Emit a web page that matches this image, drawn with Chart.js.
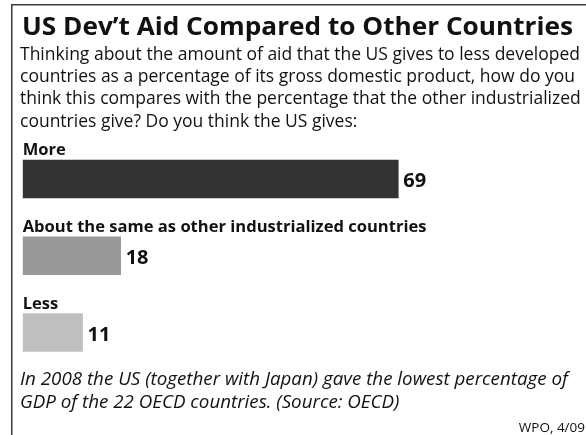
<!DOCTYPE html>
<html>
<head>
<meta charset="utf-8">
<script src="https://cdn.jsdelivr.net/npm/chart.js@4/dist/chart.umd.min.js"></script>
<style>
  html, body { margin: 0; padding: 0; background: #ffffff; }
  #wrap { position: relative; width: 586px; height: 435px; overflow: hidden; }
  canvas { display: block; }
</style>
</head>
<body>
<div id="wrap"><canvas id="chart" width="586" height="435"></canvas></div>
<script>
// Survey question and answers
const title = "US Dev\u2019t Aid Compared to Other Countries";
const questionLines = [
  "Thinking about the amount of aid that the US gives to less developed",
  "countries as a percentage of its gross domestic product, how do you",
  "think this compares with the percentage that the other industrialized",
  "countries give? Do you think the US gives:"
];
const categories = ["More", "About the same as other industrialized countries", "Less"];
const values = [69, 18, 11];
const barColors = ["#333333", "#999999", "#c0c0c0"];
const noteLines = [
  "In 2008 the US (together with Japan) gave the lowest percentage of",
  "GDP of the 22 OECD countries. (Source: OECD)"
];
const source = "WPO, 4/09";

const FONT = "'Open Sans', Lato, 'DejaVu Sans', sans-serif";

// font size that makes a line of text span the given width
function fitSize(ctx, text, style, width) {
  ctx.font = style + " 100px " + FONT;
  return 100 * width / ctx.measureText(text).width;
}

// draw a line at a fixed font size, squeezed horizontally to a given width
function drawSqueezed(ctx, text, font, x, y, width) {
  ctx.save();
  ctx.font = font;
  const w = ctx.measureText(text).width;
  ctx.translate(x, y);
  ctx.scale(width / w, 1);
  ctx.fillText(text, 0, 0);
  ctx.restore();
}

// Frame, heading, question text and footnote around the bars
const textPlugin = {
  id: "surveyText",
  beforeDraw(chart) {
    const ctx = chart.ctx;
    ctx.save();
    ctx.fillStyle = "#ffffff";
    ctx.fillRect(0, 0, chart.width, chart.height);

    // frame: top and left rules
    ctx.strokeStyle = "#3a3a3a";
    ctx.lineWidth = 1.5;
    ctx.beginPath();
    ctx.moveTo(11.75, chart.height);
    ctx.lineTo(11.75, 4.75);
    ctx.lineTo(chart.width, 4.75);
    ctx.stroke();

    ctx.textBaseline = "alphabetic";
    ctx.textAlign = "left";
    ctx.fillStyle = "#111111";

    drawSqueezed(ctx, title, "bold 25.5px " + FONT, 22, 35, 551);

    const qSize = fitSize(ctx, questionLines[0], "normal", 560);
    ctx.font = qSize + "px " + FONT;
    questionLines.forEach((line, i) => ctx.fillText(line, 20, 60 + i * 22.2));

    const nSize = fitSize(ctx, noteLines[0], "italic", 548);
    ctx.font = "italic " + nSize + "px " + FONT;
    noteLines.forEach((line, i) => ctx.fillText(line, 20, 385 + i * 22.5));

    ctx.font = "13.5px " + FONT;
    ctx.textAlign = "right";
    ctx.fillText(source, 585, 431.5);
    ctx.restore();
  },
  afterDatasetsDraw(chart) {
    const ctx = chart.ctx;
    const meta = chart.getDatasetMeta(0);
    ctx.save();
    const labelSize = fitSize(ctx, categories[1], "bold", 404);
    ctx.fillStyle = "#111111";
    ctx.textBaseline = "alphabetic";
    ctx.textAlign = "left";
    meta.data.forEach((bar, i) => {
      const top = bar.y - bar.height / 2;
      ctx.font = "bold " + labelSize + "px " + FONT;
      ctx.fillText(categories[i], chart.chartArea.left, top - 4.5);
      ctx.font = "bold 20px " + FONT;
      ctx.fillText(String(values[i]), bar.x + 5, bar.y + 8.3);
    });
    ctx.restore();
  }
};

new Chart(document.getElementById("chart"), {
  type: "bar",
  data: {
    labels: categories,
    datasets: [{
      data: values,
      backgroundColor: barColors,
      borderWidth: 0,
      barThickness: 38
    }]
  },
  options: {
    indexAxis: "y",
    responsive: false,
    animation: false,
    devicePixelRatio: 1,
    layout: { padding: { left: 22.7, right: 19, top: 140.6, bottom: 64.1 } },
    plugins: {
      legend: { display: false },
      tooltip: { enabled: false },
      title: { display: false }
    },
    scales: {
      x: { min: 0, max: 100, display: false, grid: { display: false } },
      y: { display: false, grid: { display: false } }
    }
  },
  plugins: [textPlugin]
});
</script>
</body>
</html>
